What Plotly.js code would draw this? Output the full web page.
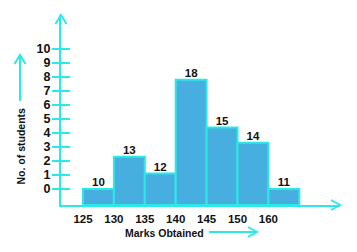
<!DOCTYPE html>
<html><head><meta charset="utf-8">
<script src="https://cdn.plot.ly/plotly-3.0.1.min.js"></script>
<style>html,body{margin:0;padding:0;background:#fff}#chart{width:357px;height:252px}</style>
</head><body><div id="chart"></div>
<script>
// Data
const classLabels = ['125','130','135','140','145','150','160'];
const frequencies = ['10','13','12','18','15','14','11'];
const barTops = [0.0, 2.3, 1.1, 7.8, 4.4, 3.3, 0.0];
const yTicks = [0,1,2,3,4,5,6,7,8,9,10];

const CYAN = '#2ee8e8';
const FILL = '#47afe0';
const BASE = -1.143;
const XMIN = -0.712, XMAX = 8.317, YMAX = 12.43;
const FONT = 'Liberation Sans, Arial, sans-serif';

const centers = barTops.map((_, i) => i + 0.5);
const edgePos = classLabels.map((_, i) => i);

const bars = {
  type: 'bar', x: centers, y: barTops.map(v => v - BASE), base: BASE, width: 1,
  marker: {color: FILL, line: {color: CYAN, width: 2}},
  hoverinfo: 'skip', showlegend: false
};
const labels = {
  type: 'scatter', mode: 'text', x: centers, y: barTops, text: frequencies,
  textposition: 'top center', cliponaxis: false,
  textfont: {family: FONT, size: 11.5, color: '#111', weight: 'bold'},
  hoverinfo: 'skip', showlegend: false
};
const ticks = {
  type: 'scatter', mode: 'markers', x: yTicks.map(() => XMIN), y: yTicks,
  marker: {symbol: 'line-ew', size: 13, line: {color: CYAN, width: 2}},
  cliponaxis: false, hoverinfo: 'skip', showlegend: false
};

// decorative arrows (pixel-sized paths anchored on paper coordinates)
function px(xp, yp) { return {x: (xp - 61) / 279, y: (205 - yp) / 190}; }
function arrowShape(xp, yp, path) {
  const a = px(xp, yp);
  return {type: 'path', xref: 'paper', yref: 'paper', xsizemode: 'pixel', ysizemode: 'pixel',
    xanchor: a.x, yanchor: a.y, path: path, line: {color: CYAN, width: 2}, layer: 'above'};
}
const shapes = [
  arrowShape(61, 15, 'M-5.5,-9L0,0L5.5,-9'),
  arrowShape(340, 205, 'M-9,5L0,0L-9,-5'),
  arrowShape(20, 55, 'M-5.5,-9L0,0L5.5,-9M0,0L0,-46'),
  arrowShape(257, 232, 'M-9,5L0,0L-9,-5M0,0L-48,0')
];

const layout = {
  width: 357, height: 252,
  margin: {l: 61, r: 17, t: 15, b: 47},
  paper_bgcolor: '#fff', plot_bgcolor: '#fff',
  font: {family: FONT, color: '#111'},
  xaxis: {
    range: [XMIN, XMAX], showgrid: false, zeroline: false,
    showline: true, linecolor: CYAN, linewidth: 2,
    tickmode: 'array', tickvals: edgePos, ticktext: classLabels, ticks: '',
    tickfont: {family: FONT, size: 11.5, color: '#111', weight: 'bold'}, ticklabelstandoff: 2
  },
  yaxis: {
    range: [BASE, YMAX], showgrid: false, zeroline: false,
    showline: true, linecolor: CYAN, linewidth: 2,
    tickmode: 'array', tickvals: yTicks, ticks: '',
    tickfont: {family: FONT, size: 12.5, color: '#111', weight: 'bold'}, ticklabelstandoff: 6
  },
  shapes: shapes,
  annotations: [
    {text: '<b>No. of students</b>', textangle: -90, showarrow: false,
     x: (20-61)/279, y: (205-146.5)/190, xref: 'paper', yref: 'paper',
     xanchor: 'center', yanchor: 'middle', font: {family: FONT, size: 10.5, color: '#111'}},
    {text: '<b>Marks Obtained</b>', showarrow: false,
     x: (164.5-61)/279, y: (205-232.7)/190, xref: 'paper', yref: 'paper',
     xanchor: 'center', yanchor: 'middle', font: {family: FONT, size: 10.5, color: '#111'}}
  ]
};
Plotly.newPlot('chart', [bars, ticks, labels], layout, {displayModeBar: false, staticPlot: true});
</script></body></html>
